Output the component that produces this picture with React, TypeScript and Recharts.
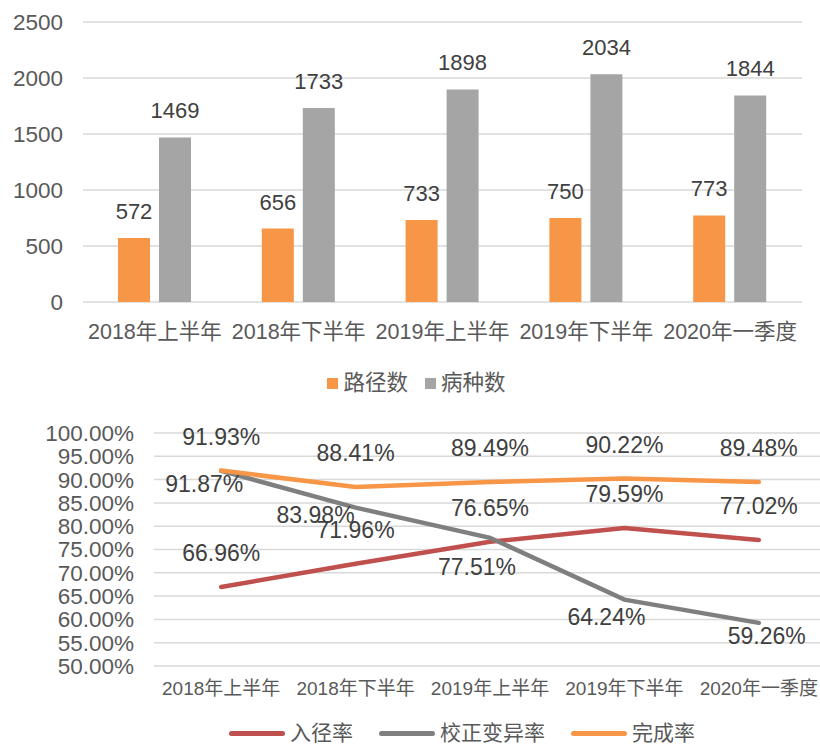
import { BarChart, Bar, LineChart, Line, XAxis, YAxis, CartesianGrid, Legend, LabelList } from 'recharts';

const periods = ['2018年上半年', '2018年下半年', '2019年上半年', '2019年下半年', '2020年一季度'];

const pathCount = [572, 656, 733, 750, 773];
const diseaseCount = [1469, 1733, 1898, 2034, 1844];

const entryRate = [66.96, 71.96, 76.65, 79.59, 77.02];
const variationRate = [91.87, 83.98, 77.51, 64.24, 59.26];
const completionRate = [91.93, 88.41, 89.49, 90.22, 89.48];

const barTicks = [0, 500, 1000, 1500, 2000, 2500];
const pctTicks = [50, 55, 60, 65, 70, 75, 80, 85, 90, 95, 100];

const barOrder = ['路径数', '病种数'];
const lineOrder = ['入径率', '校正变异率', '完成率'];

const FONT = '"Liberation Sans", Arial, "Noto Sans CJK SC", sans-serif';
const TICK = '#595959';
const LABEL = '#404040';

const barData = periods.map((p, i) => ({ name: p, 路径数: pathCount[i], 病种数: diseaseCount[i] }));
const lineData = periods.map((p, i) => ({
  name: p,
  入径率: entryRate[i],
  校正变异率: variationRate[i],
  完成率: completionRate[i],
}));

// Excel placed the grey labels around the line; these are label nudges, not data
const greyShift: [number, number][] = [[-17, 13], [-40, 7], [-13, 29], [-18, 17], [8, 13]];

const pctLabel = (shift: (i: number) => [number, number]) => (props: any) => {
  const { x, y, value, index } = props;
  const [dx, dy] = shift(index);
  return (
    <text x={x + dx} y={y + dy} textAnchor="middle" dominantBaseline="central" fontSize={23} fill={LABEL}>
      {Number(value).toFixed(2)}%
    </text>
  );
};

const ordered = (payload: any[], order: string[]) =>
  [...(payload || [])].sort((a, b) => order.indexOf(a.value) - order.indexOf(b.value));

const barLegend = (props: any) => (
  <div style={{ display: 'flex', justifyContent: 'center', paddingLeft: 31, fontSize: 21.5, color: TICK, lineHeight: '26px' }}>
    {ordered(props.payload, barOrder).map((e: any, i: number) => (
      <span key={e.value} style={{ display: 'flex', alignItems: 'center', marginLeft: i ? 17 : 0 }}>
        <span style={{ width: 11, height: 11, background: e.color, marginRight: 5 }} />
        {e.value}
      </span>
    ))}
  </div>
);

const lineLegend = (props: any) => (
  <div style={{ display: 'flex', paddingLeft: 229, fontSize: 21, color: TICK, lineHeight: '26px' }}>
    {ordered(props.payload, lineOrder).map((e: any, i: number) => (
      <span key={e.value} style={{ display: 'flex', alignItems: 'center', marginLeft: i ? 26 : 0 }}>
        <span style={{ width: 56, height: 5, borderRadius: 3, background: e.color, marginRight: 5 }} />
        {e.value}
      </span>
    ))}
  </div>
);

export default function App() {
  return (
    <div style={{ position: 'absolute', top: 0, left: 0, width: 820, height: 744, overflow: 'hidden', background: '#fff', fontFamily: FONT }}>
      <BarChart
        width={820}
        height={400}
        data={barData}
        margin={{ top: 22, right: 18, left: 0, bottom: 4 }}
        barSize={32}
        barGap={9}
      >
        <CartesianGrid vertical={false} stroke="#d9d9d9" strokeWidth={1.5} />
        <XAxis
          dataKey="name"
          axisLine={false}
          tickLine={false}
          tickSize={0}
          tickMargin={22}
          height={68}
          interval={0}
          tick={{ fontSize: 21.5, fill: TICK }}
        />
        <YAxis
          domain={[0, 2500]}
          ticks={barTicks}
          axisLine={false}
          tickLine={false}
          tickSize={0}
          tickMargin={20}
          width={83}
          tick={{ fontSize: 22.5, fill: TICK }}
        />
        <Legend verticalAlign="bottom" content={barLegend} />
        <Bar dataKey="路径数" fill="#F79646" isAnimationActive={false}>
          <LabelList dataKey="路径数" position="top" offset={19} fontSize={22} fill={LABEL} />
        </Bar>
        <Bar dataKey="病种数" fill="#A5A5A5" isAnimationActive={false}>
          <LabelList dataKey="病种数" position="top" offset={19} fontSize={22} fill={LABEL} />
        </Bar>
      </BarChart>

      <LineChart
        width={826}
        height={360}
        data={lineData}
        margin={{ top: 33, right: 0, left: 0, bottom: 14 }}
      >
        <CartesianGrid vertical={false} stroke="#d9d9d9" strokeWidth={1.5} />
        <XAxis
          dataKey="name"
          scale="band"
          axisLine={false}
          tickLine={false}
          tickSize={0}
          tickMargin={16}
          height={54}
          interval={0}
          tick={{ fontSize: 19, fill: TICK }}
        />
        <YAxis
          domain={[50, 100]}
          ticks={pctTicks}
          interval={0}
          axisLine={false}
          tickLine={false}
          tickSize={0}
          tickMargin={20}
          width={154}
          tickFormatter={(v: number) => v.toFixed(2) + '%'}
          tick={{ fontSize: 22.5, fill: TICK }}
        />
        <Legend verticalAlign="bottom" content={lineLegend} />
        <Line dataKey="入径率" stroke="#C0504D" strokeWidth={4.5} dot={false} strokeLinecap="round" isAnimationActive={false}>
          <LabelList dataKey="入径率" content={pctLabel(() => [0, -34])} />
        </Line>
        <Line dataKey="校正变异率" stroke="#7F7F7F" strokeWidth={4.5} dot={false} strokeLinecap="round" isAnimationActive={false}>
          <LabelList dataKey="校正变异率" content={pctLabel((i) => greyShift[i])} />
        </Line>
        <Line dataKey="完成率" stroke="#F79646" strokeWidth={4.5} dot={false} strokeLinecap="round" isAnimationActive={false}>
          <LabelList dataKey="完成率" content={pctLabel(() => [0, -34])} />
        </Line>
      </LineChart>
    </div>
  );
}
